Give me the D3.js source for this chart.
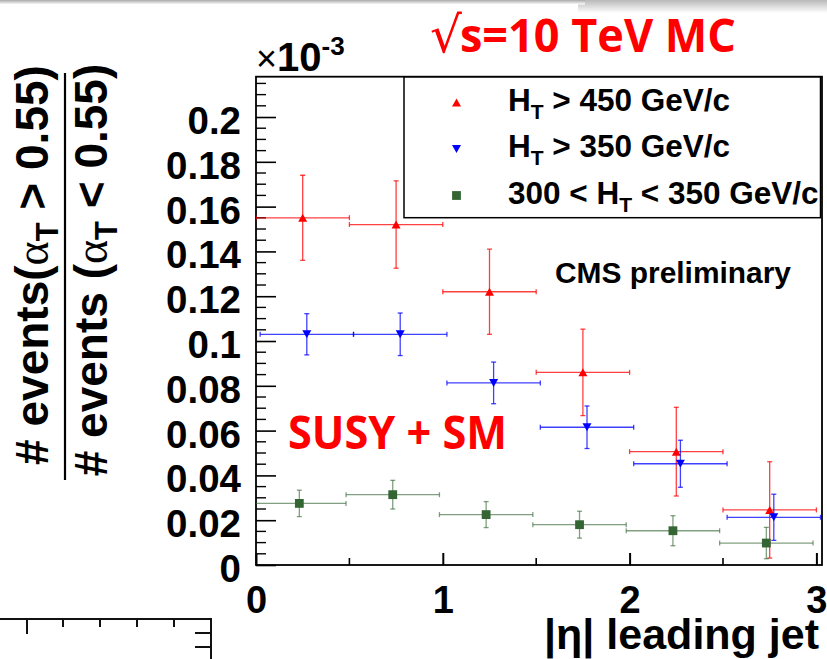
<!DOCTYPE html>
<html>
<head>
<meta charset="utf-8">
<script src="https://cdn.jsdelivr.net/npm/d3@7"></script>
<style>
  html, body { margin: 0; padding: 0; background: #fff; }
  svg { display: block; }
</style>
</head>
<body>
<svg id="chart" width="827" height="659"></svg>
<script>
// |eta| bins of the leading jet (bin centres and half width)
const etaCentres = [0.25, 0.75, 1.25, 1.75, 2.25, 2.75];
const etaHalfWidth = 0.25;

// ratio N(alphaT > 0.55) / N(alphaT < 0.55), axis units of 1e-3
const ratioHT450    = [0.155, 0.152, 0.122, 0.086, 0.0506, 0.0246];
const ratioHT450Err = [0.019, 0.0195, 0.019, 0.0193, 0.0198, 0.0215];
const ratioHT350    = [0.103, 0.103, 0.0813, 0.0615, 0.0452, 0.0213];
const ratioHT350Err = [0.0092, 0.0095, 0.0093, 0.0095, 0.0105, 0.0103];
const ratioHT300    = [0.0275, 0.0314, 0.0225, 0.018, 0.0153, 0.0098];
const ratioHT300Err = [0.0059, 0.0064, 0.0058, 0.006, 0.0067, 0.007];

// axis ticks
const yMajorTicks = [0, 0.02, 0.04, 0.06, 0.08, 0.1, 0.12, 0.14, 0.16, 0.18, 0.2];
const yTickLabels = ["0", "0.02", "0.04", "0.06", "0.08", "0.1", "0.12", "0.14", "0.16", "0.18", "0.2"];
const xMajorTicks = [0, 1, 2, 3];
const xTickLabels = ["0", "1", "2", "3"];
const xMinorTicks = [0.5, 1.5, 2.5];

const seriesNames = ["H_T > 450 GeV/c", "H_T > 350 GeV/c", "300 < H_T < 350 GeV/c"];

// each graph is drawn slightly displaced along x so the bars don't overlap
const series = [
  { name: seriesNames[0], values: ratioHT450, errors: ratioHT450Err, color: "#ff0000", marker: "up",     shift: 0 },
  { name: seriesNames[1], values: ratioHT350, errors: ratioHT350Err, color: "#0000ff", marker: "down",   shift: 0.022 },
  { name: seriesNames[2], values: ratioHT300, errors: ratioHT300Err, color: "#336633", marker: "square", shift: -0.018 }
];

const svg = d3.select("#chart");
const helv = "'Liberation Sans', Arial, Helvetica, sans-serif";
const calib = "'Open Sans', 'Noto Sans', sans-serif";

const frame = { left: 256, right: 822, top: 76.7, bottom: 565 };
const x = d3.scaleLinear().domain([0, 3.03]).range([frame.left, frame.right]);
const y = d3.scaleLinear().domain([0, 0.218]).range([frame.bottom, frame.top]);

// --- window shadow along the top edge
const defs = svg.append("defs");
const g1 = defs.append("linearGradient").attr("id", "shadeA").attr("x1", 0).attr("y1", 0).attr("x2", 0).attr("y2", 1);
g1.append("stop").attr("offset", 0).attr("stop-color", "#a9a9a9");
g1.append("stop").attr("offset", 1).attr("stop-color", "#ffffff");
const g2 = defs.append("linearGradient").attr("id", "shadeB").attr("x1", 0).attr("y1", 0).attr("x2", 0).attr("y2", 1);
g2.append("stop").attr("offset", 0).attr("stop-color", "#b9b9b9");
g2.append("stop").attr("offset", 1).attr("stop-color", "#ffffff");
svg.append("rect").attr("x", 578).attr("y", 0).attr("width", 249).attr("height", 13).attr("fill", "url(#shadeB)");
svg.append("rect").attr("x", 0).attr("y", 0).attr("width", 585).attr("height", 4.5).attr("fill", "url(#shadeA)");

defs.append("clipPath").attr("id", "plotClip").append("rect")
  .attr("x", frame.left).attr("y", frame.top)
  .attr("width", frame.right - frame.left).attr("height", frame.bottom - frame.top);

// --- y axis: major ticks with labels, minor ticks every 0.005
const yAxis = d3.axisLeft(y)
  .tickValues(yMajorTicks)
  .tickFormat((d, i) => yTickLabels[i])
  .tickSizeInner(-20).tickSizeOuter(0).tickPadding(15);
const yg = svg.append("g").attr("transform", `translate(${frame.left},0)`).call(yAxis);
yg.select(".domain").remove();
yg.selectAll(".tick line").attr("stroke", "#000").attr("stroke-width", 1.6);
yg.selectAll(".tick text")
  .attr("font-family", helv).attr("font-weight", "bold").attr("font-size", 38.5)
  .attr("fill", "#000").attr("dy", "0.43em");

const yMinor = d3.range(0, 44).map(i => i * 0.005).filter((v, i) => i % 4 !== 0 && v < 0.218);
svg.append("g").selectAll("line").data(yMinor).join("line")
  .attr("x1", frame.left).attr("x2", frame.left + 10)
  .attr("y1", d => y(d)).attr("y2", d => y(d))
  .attr("stroke", "#000").attr("stroke-width", 1.4);

// --- x axis
const xAxis = d3.axisBottom(x)
  .tickValues(xMajorTicks)
  .tickFormat((d, i) => xTickLabels[i])
  .tickSizeInner(-12).tickSizeOuter(0).tickPadding(21);
const xg = svg.append("g").attr("transform", `translate(0,${frame.bottom})`).call(xAxis);
xg.select(".domain").remove();
xg.selectAll(".tick line").attr("stroke", "#000").attr("stroke-width", 2);
xg.selectAll(".tick text")
  .attr("font-family", helv).attr("font-weight", "bold").attr("font-size", 38).attr("fill", "#000");

svg.append("g").selectAll("line").data(xMinorTicks).join("line")
  .attr("x1", d => x(d)).attr("x2", d => x(d))
  .attr("y1", frame.bottom).attr("y2", frame.bottom - 7)
  .attr("stroke", "#000").attr("stroke-width", 1.6);

// --- frame
svg.append("rect")
  .attr("x", frame.left).attr("y", frame.top)
  .attr("width", frame.right - frame.left).attr("height", frame.bottom - frame.top)
  .attr("fill", "none").attr("stroke", "#000").attr("stroke-width", 1.8);

// --- legend box
const legend = { left: 404, top: 77, right: 820.5, bottom: 217.7 };
svg.append("rect")
  .attr("x", legend.left).attr("y", legend.top)
  .attr("width", legend.right - legend.left).attr("height", legend.bottom - legend.top)
  .attr("fill", "#fff").attr("stroke", "#000").attr("stroke-width", 1.5);

// marker shapes centred on (cx, cy)
function markerPath(type, cx, cy) {
  const h = 4.5;
  if (type === "up") return `M${cx - h},${cy + 4}L${cx + h},${cy + 4}L${cx},${cy - 4}Z`;
  if (type === "down") return `M${cx - h},${cy - 4}L${cx + h},${cy - 4}L${cx},${cy + 4}Z`;
  return `M${cx - 4.4},${cy - 4.4}h8.8v8.8h-8.8Z`;
}

// --- data: error bars with end caps, then markers
const plot = svg.append("g").attr("clip-path", "url(#plotClip)");
const cap = 2.5;
series.forEach(s => {
  const pts = etaCentres.map((c, i) => ({
    cx: c + s.shift, v: s.values[i], e: s.errors[i]
  }));
  const g = plot.append("g").attr("stroke", s.color).attr("stroke-width", 1.3)
    .attr("stroke-opacity", s.marker === "square" ? 0.62 : 0.75).attr("fill", "none");
  pts.forEach(p => {
    const xl = x(p.cx - etaHalfWidth), xr = x(p.cx + etaHalfWidth), xc = x(p.cx);
    const yc = y(p.v), yt = y(p.v + p.e), yb = y(p.v - p.e);
    g.append("line").attr("x1", xl).attr("x2", xr).attr("y1", yc).attr("y2", yc);
    g.append("line").attr("x1", xl).attr("x2", xl).attr("y1", yc - cap).attr("y2", yc + cap);
    g.append("line").attr("x1", xr).attr("x2", xr).attr("y1", yc - cap).attr("y2", yc + cap);
    g.append("line").attr("x1", xc).attr("x2", xc).attr("y1", yt).attr("y2", yb);
    g.append("line").attr("x1", xc - cap).attr("x2", xc + cap).attr("y1", yt).attr("y2", yt);
    g.append("line").attr("x1", xc - cap).attr("x2", xc + cap).attr("y1", yb).attr("y2", yb);
  });
  plot.append("g").selectAll("path").data(pts).join("path")
    .attr("d", p => markerPath(s.marker, x(p.cx), y(p.v)))
    .attr("fill", s.color);
});

// --- legend entries
series.forEach((s, i) => {
  const cy = 102.5 + i * 46.5;
  svg.append("path").attr("d", markerPath(s.marker, 456.5, cy)).attr("fill", s.color);
  const t = svg.append("text")
    .attr("x", 508).attr("y", cy + 8)
    .attr("font-family", helv).attr("font-weight", "bold").attr("font-size", 31.5).attr("fill", "#000");
  const parts = s.name.split("H_T");
  t.append("tspan").text(parts[0] + "H");
  t.append("tspan").attr("font-size", 21).attr("dy", 8).text("T");
  t.append("tspan").attr("dy", -8).text(parts[1]);
});

// --- labels
svg.append("text")
  .attr("x", 555).attr("y", 283)
  .attr("font-family", helv).attr("font-weight", "bold").attr("font-size", 29).attr("fill", "#000")
  .attr("textLength", 236).attr("lengthAdjust", "spacingAndGlyphs")
  .text("CMS preliminary");

const mult = svg.append("text").attr("x", 256).attr("y", 71)
  .attr("font-family", helv).attr("fill", "#000");
mult.append("tspan").attr("font-size", 36).text("×");
mult.append("tspan").attr("font-size", 40).attr("font-weight", "bold").text("10");
mult.append("tspan").attr("font-size", 26).attr("font-weight", "bold").attr("dy", -16).text("-3");

// x-axis title
svg.append("text").attr("x", 819).attr("y", 649).attr("text-anchor", "end")
  .attr("font-family", helv).attr("font-weight", "bold").attr("font-size", 43).attr("fill", "#000")
  .text("|η| leading jet");

// y-axis title as a fraction
function ratioLine(xBase, yMid, before, rel, after) {
  const t = svg.append("text")
    .attr("transform", `translate(${xBase},${yMid}) rotate(-90)`)
    .attr("text-anchor", "middle")
    .attr("font-family", helv).attr("font-weight", "bold").attr("font-size", 46).attr("fill", "#000");
  t.append("tspan").text(before);
  t.append("tspan").attr("font-family", "'Liberation Serif', 'DejaVu Serif', serif").attr("font-weight", "normal").text("α");
  t.append("tspan").attr("font-size", 31).attr("dy", 10).text("T");
  t.append("tspan").attr("dy", -10).text(rel + after);
}
ratioLine(48, 265, "# events(", " > ", "0.55)");
ratioLine(107, 270, "# events (", " < ", "0.55)");
svg.append("line").attr("x1", 65).attr("x2", 65).attr("y1", 73).attr("y2", 480)
  .attr("stroke", "#000").attr("stroke-width", 2.2);

// slide annotations
const title = svg.append("g").attr("fill", "#ff0000");
title.append("text").attr("x", 430).attr("y", 52)
  .attr("font-family", "'DejaVu Serif', serif").attr("font-size", 50).text("√");
title.append("text").attr("x", 460).attr("y", 52)
  .attr("font-family", calib).attr("font-weight", "bold").attr("font-size", 46)
  .attr("textLength", 276).attr("lengthAdjust", "spacingAndGlyphs").text("s=10 TeV MC");
svg.append("text").attr("x", 288).attr("y", 449).attr("fill", "#ff0000")
  .attr("font-family", calib).attr("font-weight", "bold").attr("font-size", 47)
  .attr("textLength", 219).attr("lengthAdjust", "spacingAndGlyphs").text("SUSY + SM");

// edge of the neighbouring plot in the lower-left corner
const nb = svg.append("g").attr("stroke", "#111").attr("stroke-width", 2);
nb.append("path").attr("d", "M0,619H211V659").attr("fill", "none");
[27, 63, 100, 137, 174].forEach((tx, i) => {
  nb.append("line").attr("x1", tx).attr("x2", tx).attr("y1", 619).attr("y2", i === 0 ? 634 : 627);
});
[633, 647].forEach(ty => {
  nb.append("line").attr("x1", 195).attr("x2", 211).attr("y1", ty).attr("y2", ty);
});
</script>
</body>
</html>
